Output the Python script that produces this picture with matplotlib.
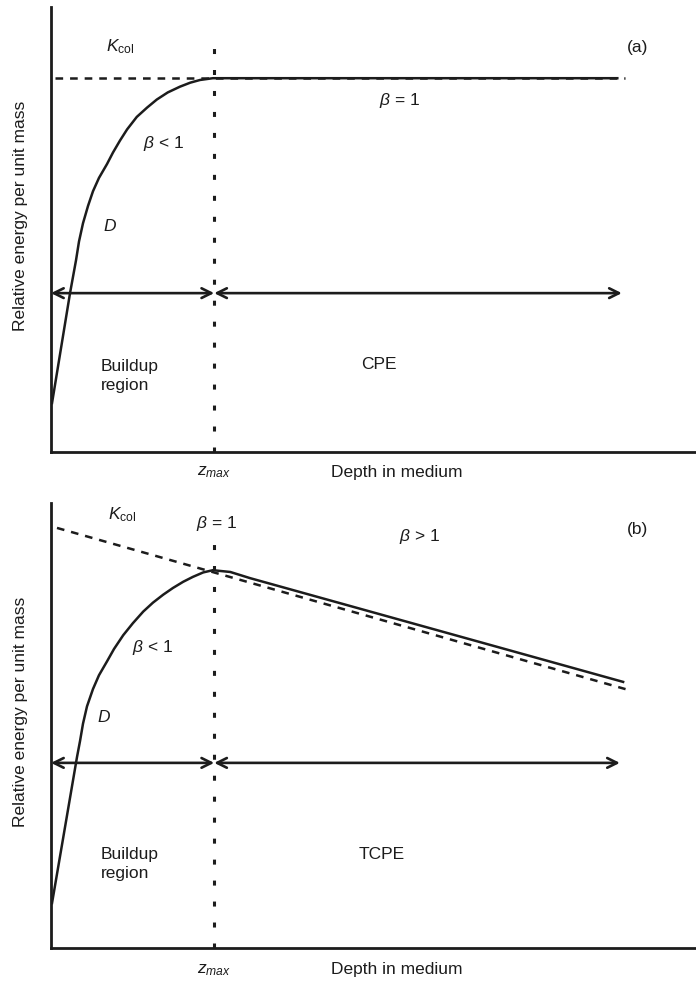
import matplotlib
matplotlib.use('Agg')
import matplotlib.pyplot as plt

plt.rcParams['font.family'] = ['Liberation Sans', 'DejaVu Sans']
plt.rcParams['mathtext.fontset'] = 'custom'
plt.rcParams['mathtext.rm'] = 'Liberation Sans'
plt.rcParams['mathtext.it'] = 'Liberation Sans:italic'
plt.rcParams['mathtext.bf'] = 'Liberation Sans:bold'
plt.rcParams['lines.scale_dashes'] = False

# depth / energy in arbitrary units (axes run 0..100)
z_max = 25.3

# (a) dose curve D, beta < 1 then beta = 1
d_a_x = [0.16, 2.95, 3.88, 4.34, 4.96, 5.74, 6.51, 7.44, 8.68, 9.61, 10.7, 11.8, 13.3,
         14.9, 16.4, 18.1, 20.0, 21.6, 23.1, 25.1, 87.8]
d_a_y = [11.0, 35.7, 43.1, 47.3, 51.4, 55.3, 58.6, 61.6, 64.7, 67.3, 70.0, 72.5, 75.3,
         77.4, 79.2, 80.8, 82.1, 83.0, 83.6, 84.0, 84.0]
k_a_x = [0.62, 89.0]
k_a_y = [84.0, 84.0]
arrow_a_y = 35.7
arrow_a_end = 88.5

# (b) dose curve D, beta < 1, beta = 1, beta > 1
d_b_x = [0.16, 4.03, 4.50, 4.96, 5.58, 6.51, 7.44, 8.68, 9.77, 11.2, 12.7, 14.3, 15.8,
         17.4, 18.9, 20.5, 22.0, 23.6, 25.1, 27.8, 30.9, 88.7]
d_b_y = [10.1, 42.9, 46.5, 50.4, 54.3, 58.2, 61.3, 64.4, 67.2, 70.3, 73.0, 75.6, 77.6,
         79.4, 80.9, 82.3, 83.4, 84.4, 84.9, 84.5, 83.1, 59.8]
k_b_x = [0.93, 89.5]
k_b_y = [94.4, 58.0]
arrow_b_y = 41.6
arrow_b_end = 88.2

ink = '#1c1c1c'
fs = 12.5

fig = plt.figure(figsize=(6.96, 9.82), dpi=100)
ax_a = fig.add_axes([51 / 696, (982 - 452) / 982, 645 / 696, 445 / 982])
ax_b = fig.add_axes([51 / 696, (982 - 948) / 982, 645 / 696, 445 / 982])


def frame(ax):
    ax.set_xlim(0, 100)
    ax.set_ylim(0, 100)
    for s in ['top', 'right']:
        ax.spines[s].set_visible(False)
    for s in ['left', 'bottom']:
        ax.spines[s].set_linewidth(2.0)
        ax.spines[s].set_color(ink)
    ax.set_xticks([])
    ax.set_yticks([])
    ax.patch.set_alpha(0)


def arrows(ax, y, x_end):
    st = '<->, head_length=0.7, head_width=0.35'
    ax.annotate('', xy=(0, y), xytext=(z_max, y),
                arrowprops=dict(arrowstyle=st, lw=1.9, color=ink, shrinkA=0, shrinkB=0))
    ax.annotate('', xy=(z_max, y), xytext=(x_end, y),
                arrowprops=dict(arrowstyle=st, lw=1.9, color=ink, shrinkA=0, shrinkB=0))


# ---- panel (a)
ax = ax_a
frame(ax)
ax.plot(k_a_x, k_a_y, color=ink, lw=1.8, dashes=(5.5, 5), solid_capstyle='butt')
ax.plot(d_a_x, d_a_y, color=ink, lw=1.8, solid_joinstyle='round')
ax.plot([z_max, z_max], [0, 92.1], color=ink, lw=2.2, dashes=(3.6, 11.5))
arrows(ax, arrow_a_y, arrow_a_end)
ax.text(10.7, 91.0, r'$K_{\rm col}$', fontsize=fs, ha='center', va='center', color=ink)
ax.text(90.9, 91.0, '(a)', fontsize=fs, ha='center', va='center', color=ink)
ax.text(54.1, 79.1, r'$\beta$ = 1', fontsize=fs, ha='center', va='center', color=ink)
ax.text(17.4, 69.4, r'$\beta$ < 1', fontsize=fs, ha='center', va='center', color=ink)
ax.text(9.1, 50.8, r'$D$', fontsize=fs, ha='center', va='center', color=ink)
ax.text(7.75, 17.1, 'Buildup\nregion', fontsize=fs, ha='left', va='center', color=ink, linespacing=1.3)
ax.text(50.9, 19.6, 'CPE', fontsize=fs, ha='center', va='center', color=ink)
ax.text(z_max, -4.6, r'$z_{max}$', fontsize=fs, ha='center', va='center', color=ink)
ax.text(53.6, -4.7, 'Depth in medium', fontsize=fs, ha='center', va='center', color=ink)
ax.text(-4.8, 53, 'Relative energy per unit mass', fontsize=fs, rotation=90,
        ha='center', va='center', color=ink)

# ---- panel (b)
ax = ax_b
frame(ax)
ax.plot(k_b_x, k_b_y, color=ink, lw=1.8, dashes=(5.5, 5), solid_capstyle='butt')
ax.plot(d_b_x, d_b_y, color=ink, lw=1.8, solid_joinstyle='round')
ax.plot([z_max, z_max], [0, 91.7], color=ink, lw=2.2, dashes=(3.6, 11.5))
arrows(ax, arrow_b_y, arrow_b_end)
ax.text(11.0, 97.3, r'$K_{\rm col}$', fontsize=fs, ha='center', va='center', color=ink)
ax.text(25.6, 95.5, r'$\beta$ = 1', fontsize=fs, ha='center', va='center', color=ink)
ax.text(57.2, 92.4, r'$\beta$ > 1', fontsize=fs, ha='center', va='center', color=ink)
ax.text(90.9, 94.0, '(b)', fontsize=fs, ha='center', va='center', color=ink)
ax.text(15.7, 67.6, r'$\beta$ < 1', fontsize=fs, ha='center', va='center', color=ink)
ax.text(8.2, 51.9, r'$D$', fontsize=fs, ha='center', va='center', color=ink)
ax.text(7.75, 18.9, 'Buildup\nregion', fontsize=fs, ha='left', va='center', color=ink, linespacing=1.3)
ax.text(51.3, 20.9, 'TCPE', fontsize=fs, ha='center', va='center', color=ink)
ax.text(z_max, -4.9, r'$z_{max}$', fontsize=fs, ha='center', va='center', color=ink)
ax.text(53.6, -4.9, 'Depth in medium', fontsize=fs, ha='center', va='center', color=ink)
ax.text(-4.8, 53, 'Relative energy per unit mass', fontsize=fs, rotation=90,
        ha='center', va='center', color=ink)

fig.savefig('out.png', dpi=100)
